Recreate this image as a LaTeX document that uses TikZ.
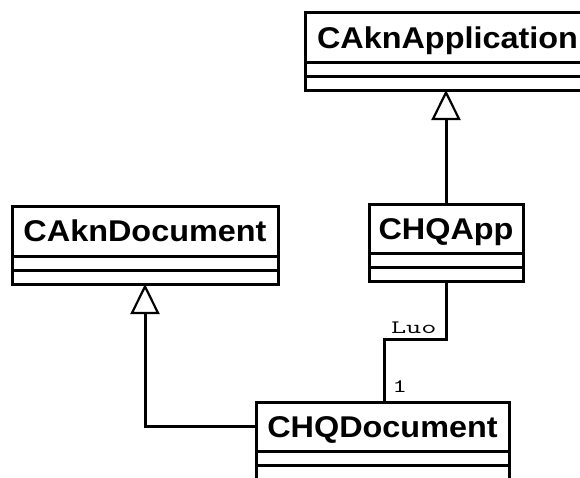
\documentclass[tikz,border=0pt]{standalone}
\usepackage{fontspec}
\usetikzlibrary{arrows.meta}
\newfontfamily\umlname[FakeStretch=1.08]{Liberation Sans}
\newfontfamily\umllabel[FakeStretch=1.55]{Latin Modern Mono}
\begin{document}
\begin{tikzpicture}[x=1pt,y=-1pt,
  every node/.style={inner sep=0pt,outer sep=0pt},
  namefont/.style={font=\umlname\bfseries\fontsize{30}{30}\selectfont},
  namebox/.style={draw,line width=3pt,anchor=north west,namefont,
    text height=21.5pt,text depth=0pt},
  compart/.style={draw,line width=3pt,anchor=north west,minimum height=14pt},
  assoclabel/.style={anchor=base west,font=\umllabel\fontsize{19}{19}\selectfont},
  link/.style={line width=3pt},
  inherit/.style={line width=3pt,-{Triangle[open,length=30pt,width=29pt,line width=2.2pt]}}]
\useasboundingbox (0,0) rectangle (580,477);
\clip (0,0) rectangle (580,477);
\fill[white] (0,0) rectangle (580,477);

% CAknApplication (runs off the right edge)
\node[namebox,minimum width=283pt,minimum height=50pt] (appl) at (305,12) {};
\node[anchor=base west,namefont] (appltext) at (317,48) {CAknApplication};
\node[compart,minimum width=283pt] (applattr) at (appl.south west) {};
\node[compart,minimum width=283pt] (applops) at (applattr.south west) {};

% CAknDocument
\node[namebox,minimum width=266pt,minimum height=50pt] (akdoc) at (12,206) {CAknDocument};
\node[compart,minimum width=266pt] (akdocattr) at (akdoc.south west) {};
\node[compart,minimum width=266pt] (akdocops) at (akdocattr.south west) {};

% CHQApp
\node[namebox,minimum width=154pt,minimum height=49pt] (hqapp) at (369,204) {CHQApp};
\node[compart,minimum width=154pt] (hqappattr) at (hqapp.south west) {};
\node[compart,minimum width=154pt] (hqappops) at (hqappattr.south west) {};

% CHQDocument (runs off the bottom edge)
\node[namebox,minimum width=253pt,minimum height=49pt] (hqdoc) at (256,402) {CHQDocument};
\node[compart,minimum width=253pt] (hqdocattr) at (hqdoc.south west) {};
\node[compart,minimum width=253pt] (hqdocops) at (hqdocattr.south west) {};

% generalisations
\draw[inherit] (hqapp.north) -- (hqapp.north |- applops.south);
\draw[inherit] (hqdoc.west |- 0,426) -| (akdocops.south);

% association CHQApp -- CHQDocument
\coordinate (bend) at (384,339);
\draw[link] (hqappops.south) |- (bend) -- (bend |- hqdoc.north);
\node[assoclabel] (luo) at (391,333) {Luo};
\node[assoclabel] (mult) at (392,392) {1};
\end{tikzpicture}
\end{document}
